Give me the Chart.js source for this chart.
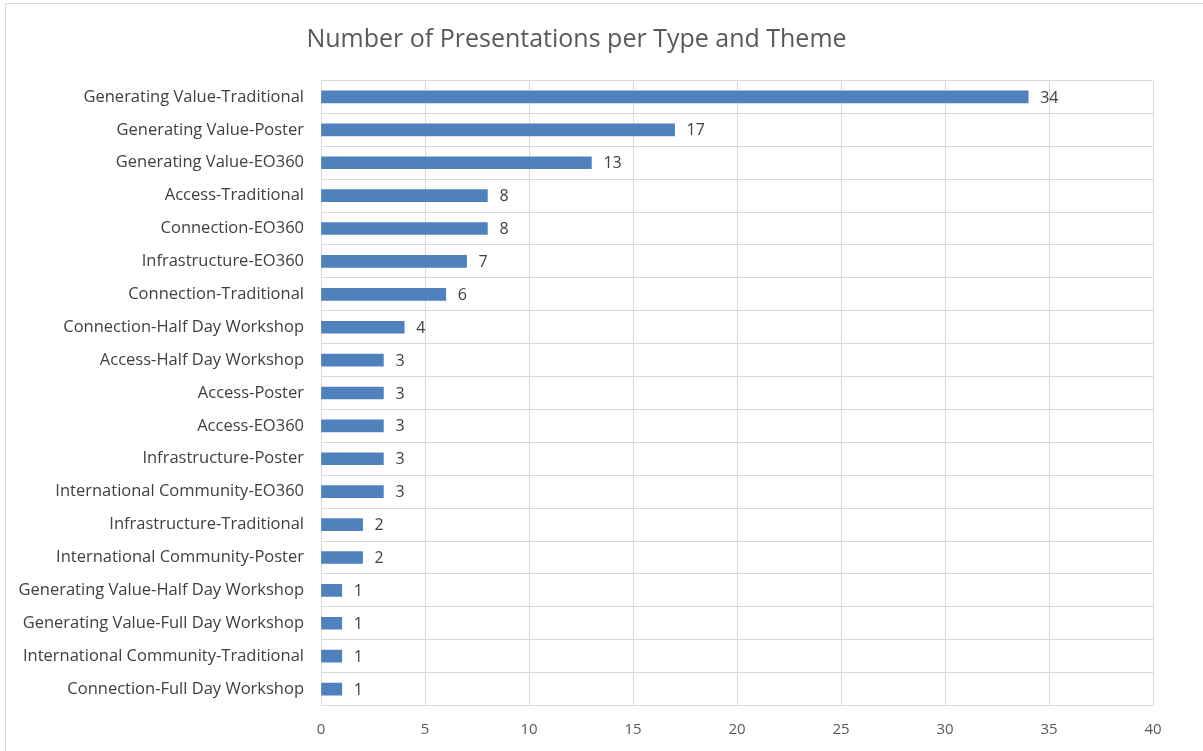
<!DOCTYPE html>
<html>
<head>
<meta charset="utf-8">
<script src="https://cdn.jsdelivr.net/npm/chart.js@4"></script>
<style>
  html, body { margin: 0; padding: 0; background: #fff; overflow: hidden; }
  #frame { position: absolute; left: 5px; top: 3px; width: 1300px; height: 800px; border: 1px solid #d9d9d9; }
  #wrap { position: absolute; left: 0; top: 0; width: 1203px; height: 751px; }
</style>
</head>
<body>
<div id="frame"></div>
<div id="wrap"><canvas id="c" width="1203" height="751"></canvas></div>
<script>
const categories = [
  "Generating Value-Traditional",
  "Generating Value-Poster",
  "Generating Value-EO360",
  "Access-Traditional",
  "Connection-EO360",
  "Infrastructure-EO360",
  "Connection-Traditional",
  "Connection-Half Day Workshop",
  "Access-Half Day Workshop",
  "Access-Poster",
  "Access-EO360",
  "Infrastructure-Poster",
  "International Community-EO360",
  "Infrastructure-Traditional",
  "International Community-Poster",
  "Generating Value-Half Day Workshop",
  "Generating Value-Full Day Workshop",
  "International Community-Traditional",
  "Connection-Full Day Workshop"
];
const counts = [34, 17, 13, 8, 8, 7, 6, 4, 3, 3, 3, 3, 3, 2, 2, 1, 1, 1, 1];
const xTicks = [0, 5, 10, 15, 20, 25, 30, 35, 40];
const chartTitle = "Number of Presentations per Type and Theme";

const FONT = "'Open Sans', 'Liberation Sans', sans-serif";

const valueLabels = {
  id: 'valueLabels',
  afterDatasetsDraw(chart) {
    const ctx = chart.ctx;
    const meta = chart.getDatasetMeta(0);
    ctx.save();
    ctx.font = "16px " + FONT;
    ctx.fillStyle = "#404040";
    ctx.textAlign = "left";
    ctx.textBaseline = "middle";
    meta.data.forEach((bar, i) => {
      ctx.fillText(String(chart.data.datasets[0].data[i]), bar.x + 12, bar.y + 1);
    });
    ctx.restore();
  }
};

new Chart(document.getElementById('c'), {
  type: 'bar',
  data: {
    labels: categories,
    datasets: [{
      data: counts,
      backgroundColor: '#4f81bd',
      borderWidth: 0,
      barThickness: 12
    }]
  },
  options: {
    indexAxis: 'y',
    responsive: false,
    animation: false,
    devicePixelRatio: 1,
    layout: { padding: { left: 0, right: 50, top: 0, bottom: 0 } },
    plugins: {
      legend: { display: false },
      tooltip: { enabled: false },
      title: {
        display: true,
        text: chartTitle,
        color: '#595959',
        font: { family: FONT, size: 25, weight: 'normal', lineHeight: 1.2 },
        padding: { top: 25, bottom: 25.5 }
      }
    },
    scales: {
      x: {
        min: 0,
        max: 40,
        afterBuildTicks(scale) { scale.ticks = xTicks.map(v => ({ value: v })); },
        grid: { color: '#d9d9d9', drawTicks: false },
        border: { display: false },
        ticks: { color: '#595959', font: { family: FONT, size: 15 }, padding: 15 },
        afterFit(s) { s.height = 751 - 705.5; }
      },
      y: {
        grid: { color: '#d9d9d9', drawTicks: false, offset: true },
        border: { color: '#d9d9d9' },
        ticks: { color: '#404040', font: { family: FONT, size: 16.5 }, padding: 17, autoSkip: false },
        afterFit(s) { s.width = 321; }
      }
    }
  },
  plugins: [valueLabels]
});
</script>
</body>
</html>
